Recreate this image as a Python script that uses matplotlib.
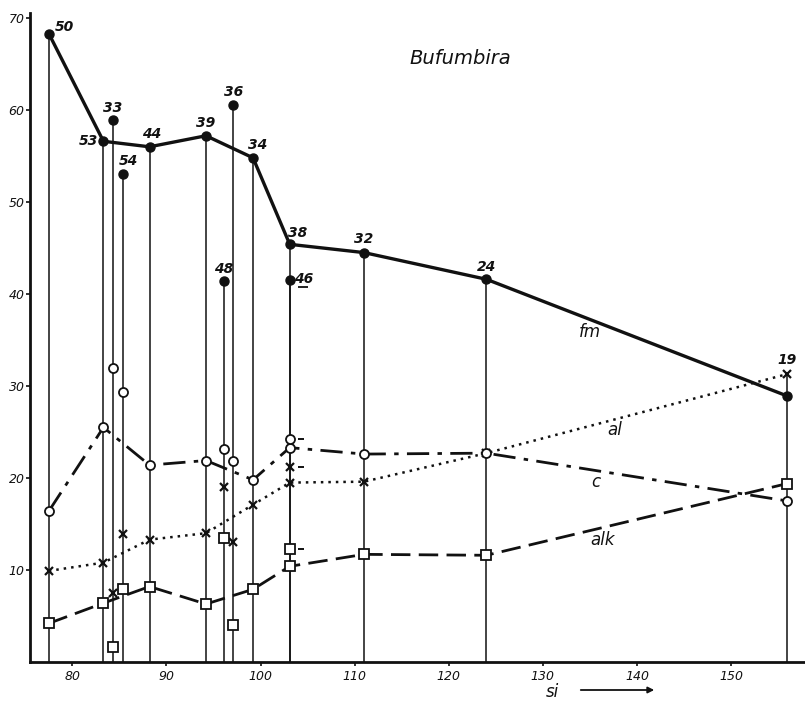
import matplotlib
matplotlib.use("Agg")
import matplotlib.pyplot as plt
from matplotlib.transforms import offset_copy
from matplotlib.patches import FancyArrowPatch

# ---- data ----
si_main = [77.5, 83.3, 88.2, 94.2, 99.2, 103.1, 111.0, 124.0, 156.0]
fm_main = [68.3, 56.6, 56.0, 57.2, 54.8, 45.4, 44.5, 41.6, 28.9]
al_main = [9.9, 10.8, 13.3, 14.0, 17.1, 19.5, 19.6, 22.7, 31.3]
c_main = [16.4, 25.5, 21.4, 21.9, 19.8, 23.3, 22.6, 22.7, 17.5]
alk_main = [4.2, 6.4, 8.2, 6.3, 7.9, 10.4, 11.7, 11.6, 19.4]
labels_main = ['50', '53', '44', '39', '34', '38', '32', '24', '19']

si_iso = [84.3, 85.4, 96.1, 97.1, 103.1]
fm_iso = [58.9, 53.0, 41.4, 60.5, 41.5]
al_iso = [7.5, 13.9, 19.0, 13.0, 21.2]
c_iso = [32.0, 29.3, 23.1, 21.9, 24.2]
alk_iso = [1.6, 7.9, 13.5, 4.0, 12.3]
labels_iso = ['33', '54', '48', '36', '46']

x_ticks = [80, 90, 100, 110, 120, 130, 140, 150]
y_ticks = [10, 20, 30, 40, 50, 60, 70]

# label offsets (points)
off_main = [(11, 5), (-11, 0), (1.5, 9), (0, 9), (3.5, 9.5), (6, 8), (0, 9.5), (0, 9), (0, 10)]
off_iso = [(0, 9), (3.5, 9.5), (0, 9), (0, 10), (10, 1)]

fig = plt.figure(figsize=(8.05, 7.09), dpi=100)
ax = fig.add_axes([0.0373, 0.0663, 0.962, 0.9148])
ax.set_xlim(75.5, 157.8)
ax.set_ylim(0, 70.5)

black = '#111111'

# vertical lines
for xs, series in [(si_main, (fm_main, al_main, c_main, alk_main)),
                   (si_iso, (fm_iso, al_iso, c_iso, alk_iso))]:
    for i, x in enumerate(xs):
        top = max(s[i] for s in series)
        ax.plot([x, x], [0, top], color=black, lw=1.1, zorder=1)

# main series
ax.plot(si_main, fm_main, color=black, lw=2.4, marker='o', ms=6.5,
        mfc=black, mec=black, zorder=4)
ax.plot(si_main, al_main, color=black, lw=1.8, ls=(0, (1, 2.0)), marker='x',
        ms=6, mew=1.6, zorder=3)
ax.plot(si_main, c_main, color=black, lw=2.0, ls=(0, (8, 3, 1.6, 3)), marker='o',
        ms=6.5, mfc='white', mec=black, mew=1.3, zorder=3)
ax.plot(si_main, alk_main, color=black, lw=2.0, ls=(0, (7, 3)), marker='s',
        ms=6.5, mfc='white', mec=black, mew=1.3, zorder=3)

# isolated samples
ax.plot(si_iso, fm_iso, ls='none', marker='o', ms=6.5, mfc=black, mec=black, zorder=4)
ax.plot(si_iso, al_iso, ls='none', marker='x', ms=6, mew=1.6, color=black, zorder=4)
ax.plot(si_iso, c_iso, ls='none', marker='o', ms=6.5, mfc='white', mec=black, mew=1.3, zorder=4)
ax.plot(si_iso, alk_iso, ls='none', marker='s', ms=6.5, mfc='white', mec=black, mew=1.3, zorder=4)

# dashes next to sample 46 markers
dash_tr = offset_copy(ax.transData, fig=fig, x=8, y=0, units='points')
ax.plot([si_iso[4]] * 3, [c_iso[4], al_iso[4], alk_iso[4]], ls='none', marker='_',
        ms=5, mew=1.4, color=black, transform=dash_tr, zorder=4)

# sample number labels
num_font = dict(fontsize=10, fontstyle='italic', fontweight='bold', color=black,
                ha='center', va='center')
for i, lab in enumerate(labels_main):
    yv = max(fm_main[i], al_main[i])
    ax.annotate(lab, (si_main[i], yv), xytext=off_main[i], textcoords='offset points', **num_font)
for i, lab in enumerate(labels_iso):
    ax.annotate(lab, (si_iso[i], fm_iso[i]), xytext=off_iso[i], textcoords='offset points', **num_font)
# underline of 46
ul_tr = offset_copy(ax.transData, fig=fig, x=9.5, y=-5, units='points')
ax.plot([si_iso[4]], [fm_iso[4]], ls='none', marker='_', ms=7, mew=1.3, color=black,
        transform=ul_tr, zorder=4)

# series names
name_font = dict(fontsize=12, fontstyle='italic', color=black, ha='center', va='center')
fig.text(590 / 805, 1 - 332 / 709, 'fm', **name_font)
fig.text(615 / 805, 1 - 430 / 709, 'al', **name_font)
fig.text(596 / 805, 1 - 482 / 709, 'c', **name_font)
fig.text(603 / 805, 1 - 540 / 709, 'alk', **name_font)

fig.text(460 / 805, 1 - 58 / 709, 'Bufumbira', fontsize=14, fontstyle='italic',
         color=black, ha='center', va='center')

# axes styling
for s in ('top', 'right'):
    ax.spines[s].set_visible(False)
for s in ('left', 'bottom'):
    ax.spines[s].set_linewidth(2.0)
    ax.spines[s].set_color(black)
ax.set_xticks(x_ticks)
ax.set_yticks(y_ticks)
ax.set_xticklabels([str(t) for t in x_ticks], fontstyle='italic', fontsize=9)
ax.set_yticklabels([str(t) for t in y_ticks], fontstyle='italic', fontsize=9)
ax.tick_params(direction='out', length=3, width=1.2, colors=black, pad=3)
ax.tick_params(axis='y', pad=1)

# si label with arrow
fig.text(552 / 805, 1 - 692 / 709, 'si', fontsize=12, fontstyle='italic', color=black,
         ha='center', va='center')
fig.patches.append(FancyArrowPatch(
    (578 / 805, 1 - 690 / 709), (657 / 805, 1 - 690 / 709), transform=fig.transFigure,
    arrowstyle='-|>', mutation_scale=9, lw=1.3, color=black))

fig.savefig('out.png', dpi=100)
